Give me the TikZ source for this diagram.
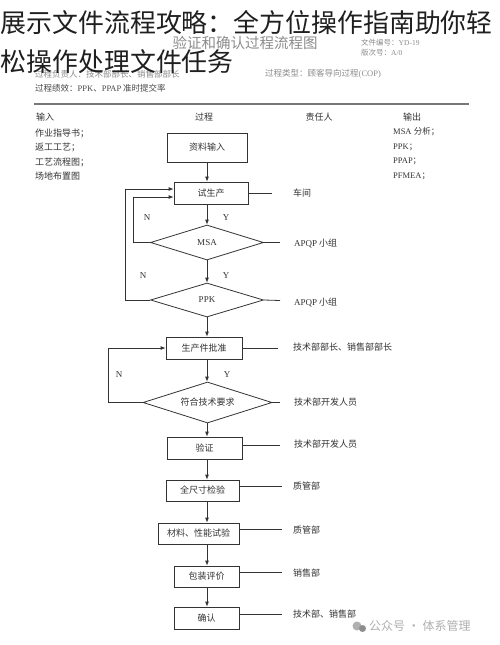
\documentclass[tikz,border=0pt]{standalone}
\usepackage{fontspec}
\newfontfamily\cjk{Noto Sans CJK SC}
\newfontfamily\lat{Liberation Serif}
\usetikzlibrary{shapes.geometric,arrows.meta}
\definecolor{ink}{HTML}{333333}
\definecolor{hdr}{HTML}{8C8C8C}
\definecolor{rule}{HTML}{777777}
\definecolor{wm}{HTML}{B0B0B0}
\begin{document}
\begin{tikzpicture}[x=1pt,y=-1pt,
  ln/.style={draw=ink,line width=0.8pt},
  arr/.style={ln,-{Latex[length=5pt,width=4pt]}},
  box/.style={draw=ink,line width=0.8pt,inner sep=0pt,text=ink,font={\cjk\fontsize{9}{10}\selectfont}},
  dia/.style={box,diamond,aspect=3},
  lbl/.style={anchor=west,inner sep=0pt,text=ink,font={\cjk\fontsize{9}{10}\selectfont}},
  yn/.style={inner sep=0pt,text=ink,font={\lat\fontsize{9}{10}\selectfont}},
  hd/.style={anchor=west,inner sep=0pt,text=hdr,font={\cjk\fontsize{8.5}{10}\selectfont}},
  ttl/.style={anchor=west,inner sep=0pt,text=black!88,font={\cjk\fontsize{25.9}{30}\selectfont}}
]
\useasboundingbox[fill=white] (0,0) rectangle (500,645);

% header
\node[anchor=center,inner sep=0pt,text=hdr,font={\cjk\fontsize{14.5}{16}\selectfont}] (sub) at (245,43) {验证和确认过程流程图};
\node[hd,font={\cjk\fontsize{7.5}{9}\selectfont}] (fno) at (361,43) {文件编号：{\lat YD-19}};
\node[hd,font={\cjk\fontsize{7.5}{9}\selectfont}] (ver) at (361,53) {版次号：{\lat A/0}};
\node[hd] (own) at (35,74) {过程负责人：技术部部长、销售部部长};
\node[hd] (typ) at (265,74) {过程类型：顾客导向过程{\lat (COP)}};
\node[hd,text=ink!90] (prf) at (35,88) {过程绩效：{\lat PPK}、{\lat PPAP} 准时提交率};
\coordinate (r0) at (34,104);
\coordinate (r1) at (469,104);
\draw[draw=rule,line width=2pt] (r0) -- (r1);

% column headers
\node[lbl] (hin) at (36,117) {输入};
\node[lbl,anchor=center] (hpr) at (204,117) {过程};
\node[lbl,anchor=center] (hre) at (319,117) {责任人};
\node[lbl,anchor=center] (hou) at (412,117) {输出};

\node[lbl] (in1) at (35,133) {作业指导书；};
\node[lbl] (in2) at (35,147.5) {返工工艺；};
\node[lbl] (in3) at (35,162) {工艺流程图；};
\node[lbl] (in4) at (35,176) {场地布置图};

\node[lbl,font={\lat\fontsize{8.5}{10}\selectfont}] (ou1) at (393,132) {MSA {\cjk 分析；}};
\node[lbl,font={\lat\fontsize{8.5}{10}\selectfont}] (ou2) at (393,147) {PPK{\cjk ；}};
\node[lbl,font={\lat\fontsize{8.5}{10}\selectfont}] (ou3) at (393,161.5) {PPAP{\cjk ；}};
\node[lbl,font={\lat\fontsize{8.5}{10}\selectfont}] (ou4) at (393,176) {PFMEA{\cjk ；}};

% flow nodes
\node[box,minimum width=80pt,minimum height=29pt] (zl) at (207,147.5) {资料输入};
\node[box,minimum width=74pt,minimum height=22pt] (sc) at (211,193) {试生产};
\node[dia,minimum width=113pt,minimum height=35pt,font={\lat\fontsize{9}{10}\selectfont}] (msa) at (207,242.5) {MSA};
\node[dia,minimum width=113pt,minimum height=34pt,font={\lat\fontsize{9}{10}\selectfont}] (ppk) at (207,300) {PPK};
\node[box,minimum width=76pt,minimum height=22pt] (pz) at (204,348) {生产件批准};
\node[dia,minimum width=129pt,minimum height=41pt] (fh) at (207.5,402.5) {符合技术要求};
\node[box,minimum width=75pt,minimum height=22pt] (yz) at (204.5,448) {验证};
\node[box,minimum width=73pt,minimum height=21pt] (qc) at (202.5,490.5) {全尺寸检验};
\node[box,minimum width=81pt,minimum height=21pt] (cl) at (198.5,533.5) {材料、性能试验};
\node[box,minimum width=65pt,minimum height=21pt] (bz) at (206.5,576.5) {包装评价};
\node[box,minimum width=65pt,minimum height=22pt] (qr) at (206.5,618) {确认};

% vertical arrows
\coordinate (ax) at (207,0);
\draw[arr] (ax |- zl.south) -- (ax |- sc.north);
\draw[arr] (ax |- sc.south) -- (msa.north);
\draw[arr] (msa.south) -- (ppk.north);
\draw[arr] (ppk.south) -- (ax |- pz.north);
\draw[arr] (ax |- pz.south) -- (ax |- fh.north);
\draw[arr] (ax |- fh.south) -- (ax |- yz.north);
\draw[arr] (ax |- yz.south) -- (ax |- qc.north);
\draw[arr] (ax |- qc.south) -- (ax |- cl.north);
\draw[arr] (ax |- cl.south) -- (ax |- bz.north);
\draw[arr] (ax |- bz.south) -- (ax |- qr.north);

% loops
\coordinate (msaL) at (133,197);
\coordinate (ppkL) at (125,189);
\coordinate (fhL) at (108,348);
\draw[arr] (msa.west) -| (msaL) -- (msaL -| sc.west);
\draw[arr] (ppk.west) -| (ppkL) -- (ppkL -| sc.west);
\draw[arr] (fh.west) -| (fhL) -- (fhL -| pz.west);

% Y / N
\node[yn] (n1) at (147,218) {N};
\node[yn] (y1) at (226,218) {Y};
\node[yn] (n2) at (143,276) {N};
\node[yn] (y2) at (226,276) {Y};
\node[yn] (n3) at (119,374.5) {N};
\node[yn] (y3) at (227,374.5) {Y};

% responsibility lines and labels
\coordinate (e1) at (272,193);
\coordinate (e2) at (280,242.5);
\coordinate (e3) at (280,300.5);
\coordinate (e4) at (278,348);
\coordinate (e5) at (280,402.5);
\coordinate (e6) at (280,445);
\coordinate (e7) at (282,486);
\coordinate (e8) at (282,529);
\coordinate (e9) at (282,572);
\coordinate (e10) at (282,614);
\draw[ln] (sc.east) -- (e1);
\draw[ln] (msa.east) -- (e2);
\draw[ln] (ppk.east) -- (e3);
\draw[ln] (pz.east) -- (e4);
\draw[ln] (fh.east) -- (e5);
\draw[ln] (yz.east |- e6) -- (e6);
\draw[ln] (qc.east |- e7) -- (e7);
\draw[ln] (cl.east |- e8) -- (e8);
\draw[ln] (bz.east |- e9) -- (e9);
\draw[ln] (qr.east |- e10) -- (e10);
\node[lbl] (rs1) at (293,193) {车间};
\node[lbl] (rs2) at (294,243) {{\lat APQP} 小组};
\node[lbl] (rs3) at (294,302) {{\lat APQP} 小组};
\node[lbl] (rs4) at (293,347) {技术部部长、销售部部长};
\node[lbl] (rs5) at (294,402.5) {技术部开发人员};
\node[lbl] (rs6) at (294,444) {技术部开发人员};
\node[lbl] (rs7) at (293,486.5) {质管部};
\node[lbl] (rs8) at (293,530) {质管部};
\node[lbl] (rs9) at (293,573) {销售部};
\node[lbl] (rs10) at (293,614) {技术部、销售部};

% watermark
\fill[wm] (357,626) circle (4.5pt);
\fill[wm!80!black] (362.5,628.5) circle (3.5pt);
\node[anchor=west,inner sep=0pt,text=wm,font={\cjk\fontsize{12}{14}\selectfont}] (wmk) at (369,626) {公众号 · 体系管理};

% title overlay
\node[ttl] (t1) at (0.5,22.5) {展示文件流程攻略：全方位操作指南助你轻};
\node[ttl] (t2) at (0.5,62) {松操作处理文件任务};
\end{tikzpicture}
\end{document}
